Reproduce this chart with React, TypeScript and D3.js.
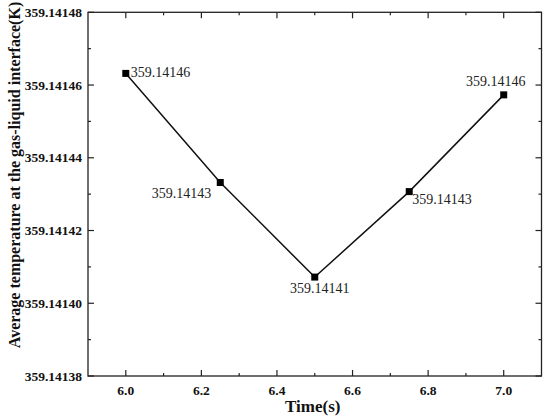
import React from 'react';
import * as d3 from 'd3';

// time (s) and average interface temperature (K)
const times = [6.0, 6.25, 6.5, 6.75, 7.0];
const temps = [359.1414632, 359.1414332, 359.1414072, 359.1414307, 359.1414573];
const pointLabels = ['359.14146', '359.14143', '359.14141', '359.14143', '359.14146'];

const xTicks = [6.0, 6.2, 6.4, 6.6, 6.8, 7.0];
const yTicks = [359.14138, 359.1414, 359.14142, 359.14144, 359.14146, 359.14148];

// where each point label sits relative to its marker
const labelPlace = [
  { dx: 5, dy: 4, anchor: 'start' },
  { dx: -9, dy: 15, anchor: 'end' },
  { dx: 5, dy: 16, anchor: 'middle' },
  { dx: 3, dy: 12, anchor: 'start' },
  { dx: -8, dy: -9, anchor: 'middle' },
];

const W = 550, H = 420;
const left = 88, right = 541.5, top = 12.3, bottom = 376;
const font = '"Liberation Serif", "Times New Roman", serif';

export default function App() {
  const x = d3.scaleLinear().domain([5.9, 7.1]).range([left, right]);
  const y = d3.scaleLinear().domain([359.14138, 359.14148]).range([bottom, top]);

  const line = d3.line<number>()
    .x((d, i) => x(times[i]))
    .y(d => y(d));

  const xMinor = d3.range(0, 12).map(i => 5.9 + i * 0.1 + 0.1).filter(v => v < 7.09);
  const yMinor = d3.range(0, 5).map(i => 359.14139 + i * 0.00002);

  return (
    <svg width={W} height={H} style={{ position: 'absolute', left: 0, top: 0 }}>
      <rect x={0} y={0} width={W} height={H} fill="#fff" />

      {/* ticks pointing inward on all four sides */}
      <g stroke="#222" strokeWidth={1.2}>
        {xMinor.map((v, i) => {
          const major = xTicks.some(t => Math.abs(t - v) < 1e-6);
          const len = major ? 6 : 3;
          return (
            <g key={'xm' + i}>
              <line x1={x(v)} x2={x(v)} y1={bottom} y2={bottom - len} />
              <line x1={x(v)} x2={x(v)} y1={top} y2={top + len} />
            </g>
          );
        })}
        {yTicks.map((v, i) => (
          <g key={'yt' + i}>
            <line x1={left} x2={left + 6} y1={y(v)} y2={y(v)} />
            <line x1={right} x2={right - 6} y1={y(v)} y2={y(v)} />
          </g>
        ))}
        {yMinor.map((v, i) => (
          <g key={'ym' + i}>
            <line x1={left} x2={left + 3} y1={y(v)} y2={y(v)} />
            <line x1={right} x2={right - 3} y1={y(v)} y2={y(v)} />
          </g>
        ))}
      </g>

      <rect x={left} y={top} width={right - left} height={bottom - top}
        fill="none" stroke="#222" strokeWidth={1.3} />

      {/* tick labels */}
      <g fontFamily={font} fontWeight="bold" fontSize={13.5} fill="#111">
        {xTicks.map((v, i) => (
          <text key={'xl' + i} x={x(v)} y={395} textAnchor="middle">{v.toFixed(1)}</text>
        ))}
        {yTicks.map((v, i) => (
          <text key={'yl' + i} x={82} y={y(v) + 4.5} textAnchor="end">{v.toFixed(5)}</text>
        ))}
      </g>

      <text x={(left + right) / 2 - 2} y={412} textAnchor="middle" fontFamily={font}
        fontWeight="bold" fontSize={17} fill="#111">Time(s)</text>
      <text transform={`translate(20,175) rotate(-90)`} textAnchor="middle" fontFamily={font}
        fontWeight="bold" fontSize={16} fill="#111">
        Average temperature at the gas-liquid interface(K)
      </text>

      <path d={line(temps) || ''} fill="none" stroke="#111" strokeWidth={1.5} />

      {temps.map((v, i) => (
        <rect key={'m' + i} x={x(times[i]) - 3.5} y={y(v) - 3.5} width={7} height={7} fill="#000" />
      ))}

      <g fontFamily={font} fontSize={14} fill="#222">
        {temps.map((v, i) => (
          <text key={'pl' + i} x={x(times[i]) + labelPlace[i].dx} y={y(v) + labelPlace[i].dy}
            textAnchor={labelPlace[i].anchor as any}>{pointLabels[i]}</text>
        ))}
      </g>
    </svg>
  );
}
